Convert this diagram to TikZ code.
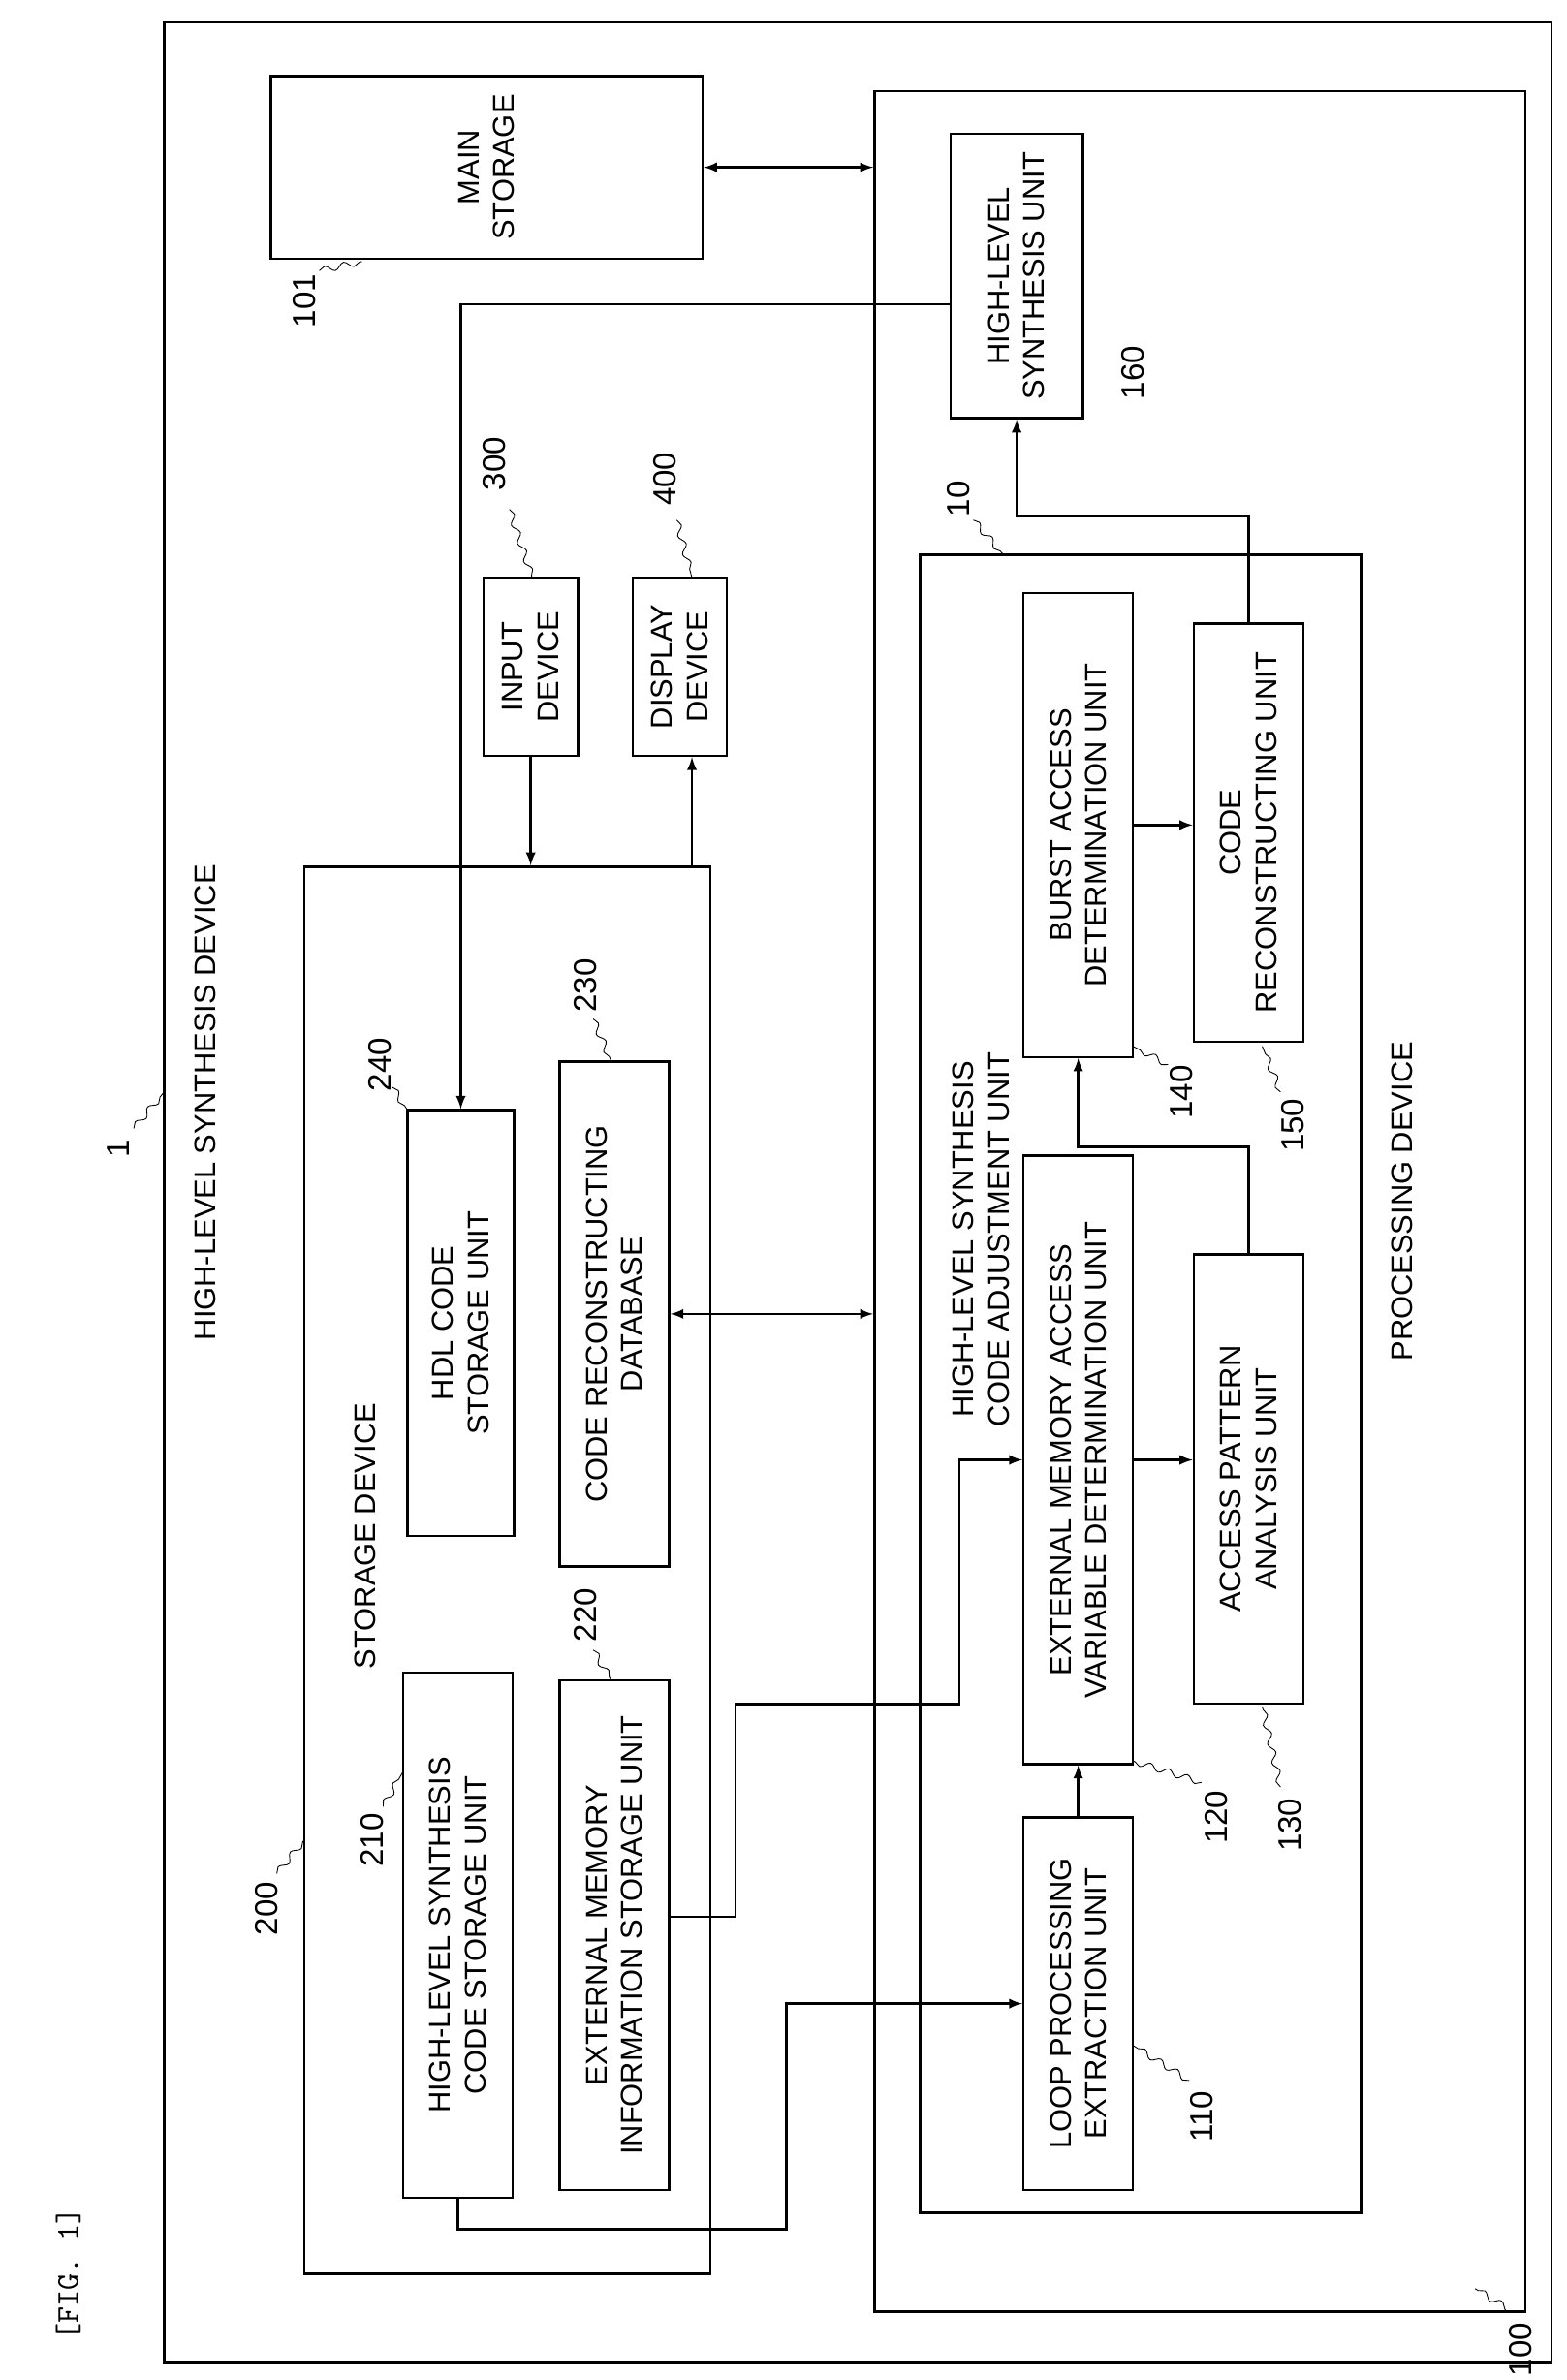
\documentclass[tikz,border=0pt]{standalone}
\usepackage{fontspec}
\setmainfont{Liberation Sans}
\usetikzlibrary{positioning,calc,decorations.pathmorphing}
\begin{document}
\begin{tikzpicture}[
    x=0.025cm, y=-0.025cm,
    >=latex, font=\fontsize{14}{16.5}\selectfont,
    frame/.style={draw, line width=1.1pt},
    blk/.style={draw, line width=1.1pt, rotate=90, align=center, inner sep=2pt},
    unit/.style={blk, minimum height=1.8cm},
    num/.style={rotate=90, font=\fontsize{15}{17}\selectfont},
    lead/.style={decorate, decoration={snake, amplitude=1.5pt, segment length=9pt}},
    link/.style={->, line width=1.1pt}
]
\useasboundingbox (0,0) rectangle (1030,1565);

% frames
\node[frame, minimum width=22.8cm, minimum height=38.45cm] (hls) at (564,784) {};
\node[frame, minimum width=10.7cm, minimum height=36.5cm] (pd) at (789,790) {};
\node[frame, minimum width=7.25cm, minimum height=27.25cm] (adj) at (750,910) {};
\node[frame, minimum width=6.675cm, minimum height=23.125cm] (sd) at (333.5,1032.5) {};

\node[num, font=\ttfamily\fontsize{15}{17}\selectfont] at (45,1495) {[FIG. 1]};
\node[rotate=90] at (135,725) {HIGH-LEVEL SYNTHESIS DEVICE};
\node[rotate=90] at (922,790) {PROCESSING DEVICE};
\node[rotate=90] at (240,1010) {STORAGE DEVICE};
\node[rotate=90, align=center] at (645,815) {HIGH-LEVEL SYNTHESIS\\CODE ADJUSTMENT UNIT};

% blocks
\node[blk, minimum width=3cm, minimum height=7.1cm] (ms) at (320,110) {MAIN\\STORAGE};
\node[blk, minimum width=4.675cm, minimum height=2.175cm] (b160) at (668.5,181.5) {HIGH-LEVEL\\SYNTHESIS UNIT};
\node[unit, minimum width=7.625cm] (b140) at (709,542.5) {BURST ACCESS\\DETERMINATION UNIT};
\node[unit, minimum width=6.875cm] (b150) at (821,547.5) {CODE\\RECONSTRUCTING UNIT};
\node[unit, minimum width=10cm] (b120) at (709,960) {EXTERNAL MEMORY ACCESS\\VARIABLE DETERMINATION UNIT};
\node[unit, minimum width=7.375cm] (b130) at (821,972.5) {ACCESS PATTERN\\ANALYSIS UNIT};
\node[unit, minimum width=6.125cm] (b110) at (709,1317.5) {LOOP PROCESSING\\EXTRACTION UNIT};
\node[unit, minimum width=8.625cm] (b210) at (301,1272.5) {HIGH-LEVEL SYNTHESIS\\CODE STORAGE UNIT};
\node[unit, minimum width=8.375cm] (b220) at (404,1272.5) {EXTERNAL MEMORY\\INFORMATION STORAGE UNIT};
\node[unit, minimum width=8.3cm] (b230) at (404,864) {CODE RECONSTRUCTING\\DATABASE};
\node[unit, minimum width=7cm, minimum height=1.75cm] (b240) at (303,870) {HDL CODE\\STORAGE UNIT};
\node[blk, minimum width=2.925cm, minimum height=1.55cm] (b300) at (349,438.5) {INPUT\\DEVICE};
\node[blk, minimum width=2.925cm, minimum height=1.55cm] (b400) at (447,438.5) {DISPLAY\\DEVICE};

% connectors
\draw[link, <->] (ms.south) -- (ms.south -| pd.west);
\draw[link, <->] (b230.south) -- (b230.south -| pd.west);
\draw[link] ([yshift=-0.46cm]b160.north) -| (b240.east);
\draw[link] (b300.west) -- (b300.west |- sd.north);
\draw[link] ([xshift=0.2cm]b400.west |- sd.north) -- ([xshift=0.2cm]b400.west);
\draw[link] (b140.south) -- (b140.south -| b150.north);
\draw[link] (b150.east) -- ++(0,-70) -| (b160.west);
\draw[link] (b130.east) -- ++(0,-70) -| (b140.west);
\draw[link] (b120.south) -- (b120.south -| b130.north);
\draw[link] (b110.east) -- (b120.west);
\draw[link] (b210.west) -- ++(0,20) -- ++(216,0) |- (b110.north);
\draw[link] ([yshift=0.3cm]b220.south) -- ++(43,0) -- ++(0,-140) -- ++(147,0) |- (b120.north);

% reference numerals
\node[num] (n1) at (78,755) {1};
\draw[lead] (88,742) -- (108,718);
\node[num] (n101) at (200,198) {101};
\draw[lead] (210,178) -- (238,172);
\node[num] (n300) at (325,305) {300};
\draw[lead] (335,335) -- (350,380);
\node[num] (n400) at (437,315) {400};
\draw[lead] (445,342) -- (455,380);
\node[num] (n10) at (630,328) {10};
\draw[lead] (640,342) -- (660,365);
\node[num] (n160) at (745,245) {160};
\node[num] (n140) at (777,718) {140};
\draw[lead] (768,700) -- (745,688);
\node[num] (n150) at (850,740) {150};
\draw[lead] (842,718) -- (830,688);
\node[num] (n120) at (800,1195) {120};
\draw[lead] (790,1172) -- (745,1158);
\node[num] (n130) at (848,1200) {130};
\draw[lead] (842,1175) -- (830,1122);
\node[num] (n110) at (790,1392) {110};
\draw[lead] (782,1368) -- (745,1345);
\node[num] (n100) at (1000,1545) {100};
\draw[lead] (995,1520) -- (970,1505);
\node[num] (n200) at (175,1255) {200};
\draw[lead] (182,1232) -- (200,1210);
\node[num] (n210) at (245,1210) {210};
\draw[lead] (252,1188) -- (265,1165);
\node[num] (n220) at (385,1062) {220};
\draw[lead] (390,1085) -- (402,1105);
\node[num] (n230) at (385,648) {230};
\draw[lead] (390,670) -- (402,698);
\node[num] (n240) at (250,700) {240};
\draw[lead] (258,715) -- (268,730);
\end{tikzpicture}
\end{document}
